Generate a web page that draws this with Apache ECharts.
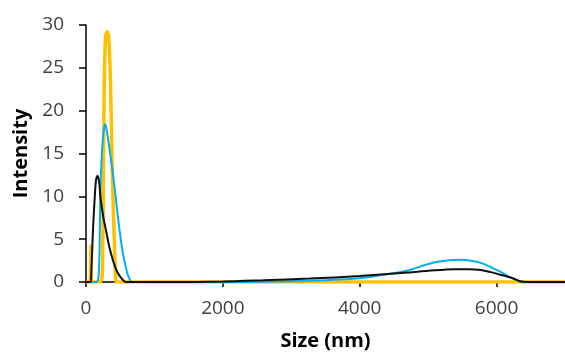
<!DOCTYPE html>
<html>
<head>
<meta charset="utf-8">
<script src="https://cdn.jsdelivr.net/npm/echarts@6/dist/echarts.min.js"></script>
<style>
html,body{margin:0;padding:0;background:#fff;overflow:hidden;}
#chart{width:565px;height:356px;}
</style>
</head>
<body>
<div id="chart"></div>
<script>
// Gold series
var goldSize = [0, 60, 70, 72, 74, 200, 235, 245, 252, 258, 265, 275, 290, 310, 330, 350, 370, 384, 400, 415, 430, 445, 7000];
var goldIntensity = [0, 0, 0, 4.2, 0, 0, 0.5, 4, 10, 16, 22, 26.5, 28.8, 29.2, 28.8, 25.5, 19, 13, 8.5, 4.5, 1.2, 0, 0];
// Blue series
var blueSize = [0, 150, 175, 187, 198, 205, 212, 226, 245, 265, 283, 300, 330, 360, 393, 430, 460, 503, 540, 575, 605, 640, 670, 2000, 2600, 3266, 4000, 4400, 4705, 4900, 5100, 5300, 5453, 5650, 5800, 5950, 6054, 6150, 6245, 6360, 6450, 7000];
var blueIntensity = [0, 0, 0.2, 1, 4, 8, 11, 14, 16.5, 18, 18.4, 17.8, 16.3, 14.6, 12.6, 10.2, 8, 5.3, 3.3, 2, 1, 0.3, 0, 0, 0.03, 0.15, 0.45, 0.9, 1.35, 1.85, 2.3, 2.55, 2.6, 2.45, 2.15, 1.6, 1.2, 0.75, 0.4, 0.02, 0, 0];
// Black series
var blackSize = [0, 60, 72, 80, 92, 105, 125, 145, 168, 190, 216, 255, 298, 335, 374, 415, 456, 510, 566, 620, 1200, 2000, 2590, 3266, 4000, 4705, 5000, 5380, 5600, 5766, 5914, 6054, 6245, 6360, 6450, 7000];
var blackIntensity = [0, 0, 0.1, 1.5, 4, 6.6, 9.5, 11.8, 12.4, 11.8, 9.6, 7.5, 5.8, 4.3, 3.1, 2, 1.2, 0.5, 0.05, 0, 0, 0.05, 0.2, 0.4, 0.7, 1.1, 1.3, 1.5, 1.5, 1.4, 1.15, 0.85, 0.4, 0.05, 0, 0];

var xTicks = [0, 2000, 4000, 6000];
var yTicks = [0, 5, 10, 15, 20, 25, 30];

function pairs(xs, ys) { return xs.map(function (x, i) { return [x, ys[i]]; }); }

var FONT = '"Open Sans", sans-serif';
var chart = echarts.init(document.getElementById('chart'), null, {renderer: 'canvas', width: 565, height: 356});
chart.setOption({
  animation: false,
  backgroundColor: '#fff',
  grid: {left: 86, top: 25, bottom: 69, right: -8, containLabel: false},
  xAxis: {
    type: 'value', min: 0, max: 7000, interval: 2000,
    name: 'Size (nm)', nameLocation: 'middle', nameGap: 49,
    nameTextStyle: {fontFamily: FONT, fontSize: 20, fontWeight: 'bold', color: '#000'},
    axisLine: {show: true, lineStyle: {color: '#000', width: 1.5}},
    axisTick: {show: true, length: 5, lineStyle: {color: '#000', width: 1.5}},
    axisLabel: {fontFamily: FONT, fontSize: 19, color: '#404040', margin: 17, showMaxLabel: false,
      formatter: function (v) { return xTicks.indexOf(v) >= 0 ? String(v) : ''; }},
    splitLine: {show: false}
  },
  yAxis: {
    type: 'value', min: 0, max: 30, interval: 5,
    name: 'Intensity', nameLocation: 'middle', nameGap: 55, nameRotate: 90,
    nameTextStyle: {fontFamily: FONT, fontSize: 20, fontWeight: 'bold', color: '#000'},
    axisLine: {show: true, lineStyle: {color: '#000', width: 1.5}},
    axisTick: {show: true, length: 7, lineStyle: {color: '#000', width: 1.5}},
    axisLabel: {fontFamily: FONT, fontSize: 19, color: '#404040', margin: 22,
      formatter: function (v) { return yTicks.indexOf(v) >= 0 ? String(v) : ''; }},
    splitLine: {show: false}
  },
  series: [
    {type: 'line', data: pairs(goldSize, goldIntensity), smooth: 0.3, showSymbol: false,
      lineStyle: {color: '#FFC000', width: 3.5}, itemStyle: {color: '#FFC000'}, z: 2},
    {type: 'line', data: pairs(blueSize, blueIntensity), smooth: 0.3, showSymbol: false,
      lineStyle: {color: '#00B0F0', width: 2}, itemStyle: {color: '#00B0F0'}, z: 3},
    {type: 'line', data: pairs(blackSize, blackIntensity), smooth: 0.3, showSymbol: false,
      lineStyle: {color: '#111', width: 2}, itemStyle: {color: '#111'}, z: 4}
  ]
});
</script>
</body>
</html>
